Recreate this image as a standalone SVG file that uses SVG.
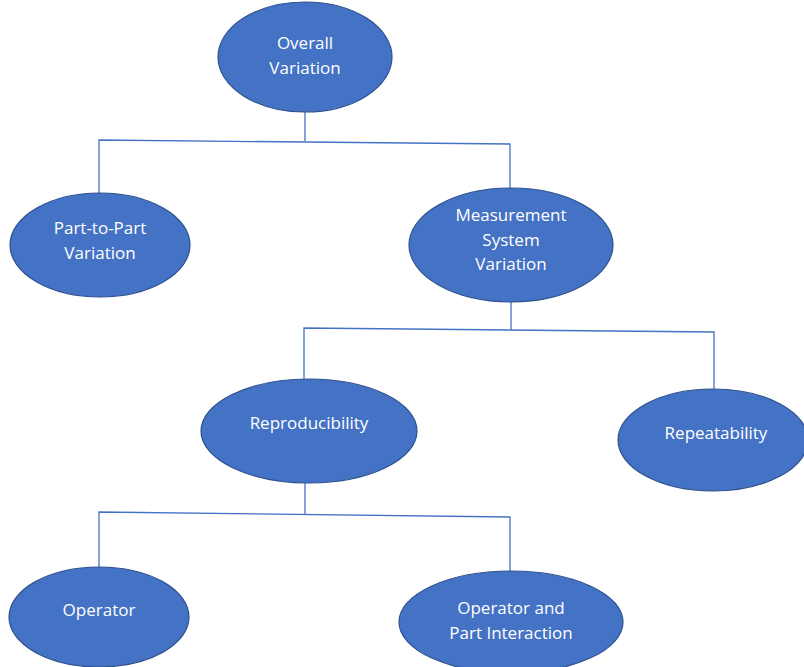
<svg xmlns="http://www.w3.org/2000/svg" width="804" height="667" viewBox="0 0 804 667">
<style>
.n{fill:#4472C4;stroke:#2F528F;stroke-width:1.2}
.t{fill:#FFFFFF;font-family:"Open Sans","Liberation Sans",sans-serif;font-size:17px;text-anchor:middle}
.c{stroke:#4472C4;stroke-width:1.3;fill:none}
</style>
<rect width="804" height="667" fill="#FFFFFF"/>
<g id="connectors">
<polyline class="c" points="305,112 305,141"/>
<polyline class="c" points="99,193 99,140 510,144 510,188"/>
<polyline class="c" points="511,302 511,330"/>
<polyline class="c" points="304,384 304,328 714,332 714,389"/>
<polyline class="c" points="305,483 305,514"/>
<polyline class="c" points="99,567 99,512 510,517 510,572"/>
</g>
<g id="overall">
<ellipse class="n" cx="305" cy="57" rx="87" ry="55"/>
<text class="t" x="305" y="49">Overall</text>
<text class="t" x="305" y="74">Variation</text>
</g>
<g id="part">
<ellipse class="n" cx="100" cy="245" rx="90" ry="52"/>
<text class="t" x="100" y="234">Part-to-Part</text>
<text class="t" x="100" y="259">Variation</text>
</g>
<g id="measurement">
<ellipse class="n" cx="511" cy="245" rx="102" ry="57"/>
<text class="t" x="511" y="221">Measurement</text>
<text class="t" x="511" y="246">System</text>
<text class="t" x="511" y="270">Variation</text>
</g>
<g id="reproducibility">
<ellipse class="n" cx="309" cy="431" rx="108" ry="52"/>
<text class="t" x="309" y="429">Reproducibility</text>
</g>
<g id="repeatability">
<ellipse class="n" cx="713" cy="440" rx="95" ry="51"/>
<text class="t" x="716" y="439">Repeatability</text>
</g>
<g id="operator">
<ellipse class="n" cx="99" cy="617" rx="90" ry="50"/>
<text class="t" x="99" y="616">Operator</text>
</g>
<g id="interaction">
<ellipse class="n" cx="511" cy="622" rx="112" ry="51"/>
<text class="t" x="511" y="614">Operator and</text>
<text class="t" x="511" y="639">Part Interaction</text>
</g>
</svg>
